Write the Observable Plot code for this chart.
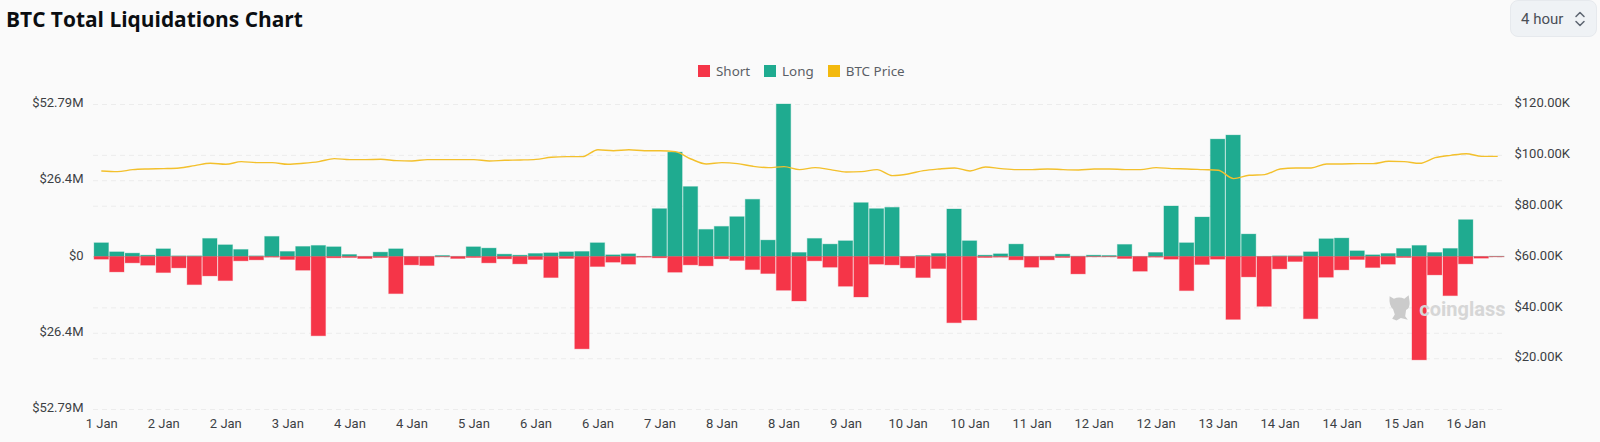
<!DOCTYPE html>
<html>
<head>
<meta charset="utf-8">
<script src="https://cdn.jsdelivr.net/npm/d3@7"></script>
<script src="https://cdn.jsdelivr.net/npm/@observablehq/plot@0.6"></script>
<style>
  html, body { margin: 0; padding: 0; background: #fafafa; width: 1600px; height: 442px; overflow: hidden; }
  #wrap { position: relative; width: 1600px; height: 442px; }
  #title { position: absolute; left: 6px; top: 5px; font: 700 20.9px "Open Sans", sans-serif; color: #0b0e11; white-space: nowrap; }
  #select { position: absolute; left: 1510px; top: 0; width: 87px; height: 37px; box-sizing: border-box; background: #eff2f5; border: 1px solid #e6e9ed; border-radius: 8px; font: 400 15px Roboto, sans-serif; color: #4a4f57; line-height: 36px; padding-left: 10px; }
  #select svg { position: absolute; left: 62px; top: 9px; }
  #legend { position: absolute; top: 63px; left: 698px; display: flex; align-items: center; font: 400 13.4px "Noto Sans", sans-serif; color: #5a5f66; height: 16px; }
  #legend span.k { display: inline-block; width: 12px; height: 12px; margin-right: 6px; }
  #legend span.i { display: flex; align-items: center; margin-right: 14px; }
  #mark { position: absolute; left: 1387px; top: 293px; }
  #chart svg { display: block; }
</style>
</head>
<body>
<div id="wrap">
  <div id="chart"></div>
  <div id="title">BTC Total Liquidations Chart</div>
  <div id="select">4 hour<svg width="14" height="18" viewBox="0 0 14 18" fill="none" stroke="#5c6470" stroke-width="1.5" stroke-linecap="round" stroke-linejoin="round"><path d="M3 6.5 L7 2.5 L11 6.5"/><path d="M3 11.5 L7 15.5 L11 11.5"/></svg></div>
  <div id="legend">
    <span class="i"><span class="k" style="background:#f53548"></span>Short</span>
    <span class="i"><span class="k" style="background:#1fab90"></span>Long</span>
    <span class="i"><span class="k" style="background:#f3b90e"></span>BTC Price</span>
  </div>
  <svg id="mark" width="26" height="29" viewBox="0 0 30 32"><path fill="#cbcbcb" d="M3 3 L8 6 Q14 3 20 6 L25 2 L26 9 Q27 16 22 19 L21 26 L24 30 L16 28 L11 31 L6 29 L9 24 L7 18 Q2 14 3 3 Z"/></svg>
</div>
<script>
const shortM = [0.93,5.33,2.2,3.01,5.56,3.94,9.73,6.72,8.34,1.5,1.16,0.23,1.04,4.75,27.44,0.46,0.35,0.69,0.35,12.85,2.9,3.13,0.12,0.69,0.35,2.2,0.81,2.55,1.04,7.29,0.69,31.96,3.47,1.97,2.66,0.23,0.46,5.44,2.9,3.24,0.81,1.39,4.52,5.9,11.69,15.4,1.5,3.71,10.3,14.01,2.66,2.9,3.94,7.29,4.17,22.92,22,0.35,0.23,1.16,3.71,1.16,0.35,6.02,0.12,0.12,0.69,5.09,0.23,0.93,11.81,2.78,0.93,21.77,7.06,17.25,4.28,1.74,21.54,7.18,4.63,1.04,3.82,2.66,0.35,35.78,6.37,13.55,2.55,0.58,0.12];
const longM = [4.75,1.62,1.16,0.46,2.66,0.23,0.23,6.25,4.05,2.43,0.23,6.95,1.74,3.47,3.82,3.36,0.69,0.05,1.5,2.66,0.05,0.05,0.35,0.05,3.36,2.9,0.81,0.46,1.04,1.27,1.62,1.74,4.75,0.58,0.93,0.06,16.56,36.13,24.2,9.38,10.42,13.78,19.8,5.67,52.79,1.39,6.25,4.28,5.44,18.64,16.56,17.02,0.05,0.35,1.04,16.44,5.44,0.46,0.93,4.28,0.05,0.12,0.81,0.12,0.46,0.35,4.17,0.05,1.39,17.48,4.75,13.66,40.64,42.03,7.76,0.05,0.23,0.23,1.62,6.14,6.37,1.97,0.58,1.04,2.78,3.82,1.39,2.78,12.74,0.03,0.1];
const priceK = [93.86,93.59,94.38,94.64,94.77,95.03,95.95,96.86,96.47,97.52,97.12,97.12,96.47,96.86,97.52,98.69,98.3,98.3,98.43,97.91,97.78,98.3,98.3,98.3,98.3,97.78,98.04,98.17,98.43,99.22,99.48,99.48,102.22,101.83,102.22,101.83,101.83,101.44,98.56,96.6,97.12,96.73,95.69,95.16,95.56,94.38,95.16,94.38,93.46,93.59,94.38,92.03,92.68,93.99,94.64,95.03,93.86,95.42,94.77,94.38,94.38,94.64,94.38,94.25,94.64,94.64,94.38,94.38,95.16,94.77,94.64,94.38,94.12,90.85,92.16,92.42,94.64,95.03,95.03,96.6,96.6,96.73,96.73,97.65,97.52,96.86,99.08,100,100.65,99.61,99.61];
const tickLabels = ["1 Jan","2 Jan","2 Jan","3 Jan","4 Jan","4 Jan","5 Jan","6 Jan","6 Jan","7 Jan","8 Jan","8 Jan","9 Jan","10 Jan","10 Jan","11 Jan","12 Jan","12 Jan","13 Jan","14 Jan","14 Jan","15 Jan","16 Jan"];
const leftTicks = [52.79, 26.4, 0, -26.4, -52.79];
const rightTicks = [120, 100, 80, 60, 40, 20];

const bars = shortM.map((s, i) => ({i, short: -s, long: longM[i], price: priceK[i]}));
const idx = bars.map(d => d.i);
const tickIdx = tickLabels.map((_, k) => k * 4);
const tickName = new Map(tickIdx.map((t, k) => [t, tickLabels[k]]));
const toLeft = d3.scaleLinear([0, 120], [-52.79, 52.79]);
const gridVals = [...leftTicks, ...rightTicks.slice(1).map(toLeft)];
const axisFont = {fontSize: 13};

const svg = Plot.plot({
  width: 1600, height: 442,
  marginTop: 104, marginBottom: 33, marginLeft: 93, marginRight: 95,
  style: {background: "transparent", fontFamily: "Roboto, sans-serif", color: "#3c3f44"},
  x: {type: "band", domain: idx, padding: 0.07},
  y: {domain: [-52.79, 52.79]},
  marks: [
    Plot.ruleY(gridVals, {stroke: "#ececec", strokeDasharray: "5 4", strokeWidth: 1}),
    Plot.barY(bars, {x: "i", y1: 0, y2: "long", fill: "#1fab90", stroke: "#1fab90", strokeOpacity: 0.3, strokeWidth: 1}),
    Plot.barY(bars, {x: "i", y1: 0, y2: "short", fill: "#f53548", stroke: "#f53548", strokeOpacity: 0.3, strokeWidth: 1}),
    Plot.line(bars, {x: "i", y: d => toLeft(d.price), stroke: "#f3c02c", strokeWidth: 1.4, curve: "monotone-x"}),
    Plot.axisY(leftTicks, {anchor: "left", tickSize: 0, tickPadding: 10, dy: -1.5, label: null, ...axisFont,
      tickFormat: d => d === 0 ? "$0" : "$" + Math.abs(d) + "M"}),
    Plot.axisY(rightTicks, {anchor: "right", y: toLeft, tickSize: 0, tickPadding: 9, dy: -1.5, label: null, ...axisFont,
      tickFormat: d => "$" + d.toFixed(2) + "K"}),
    Plot.axisX(tickIdx, {anchor: "bottom", tickSize: 0, tickPadding: 9, label: null, ...axisFont,
      tickFormat: d => tickName.get(d)}),
    Plot.text(["coinglass"], {frameAnchor: "bottom-right", dx: 0, dy: -94, fontSize: 20, fontWeight: 700, fill: "#d6d6d6", textAnchor: "end", fontFamily: "Roboto, sans-serif"})
  ]
});
document.getElementById("chart").appendChild(svg);
</script>
</body>
</html>
